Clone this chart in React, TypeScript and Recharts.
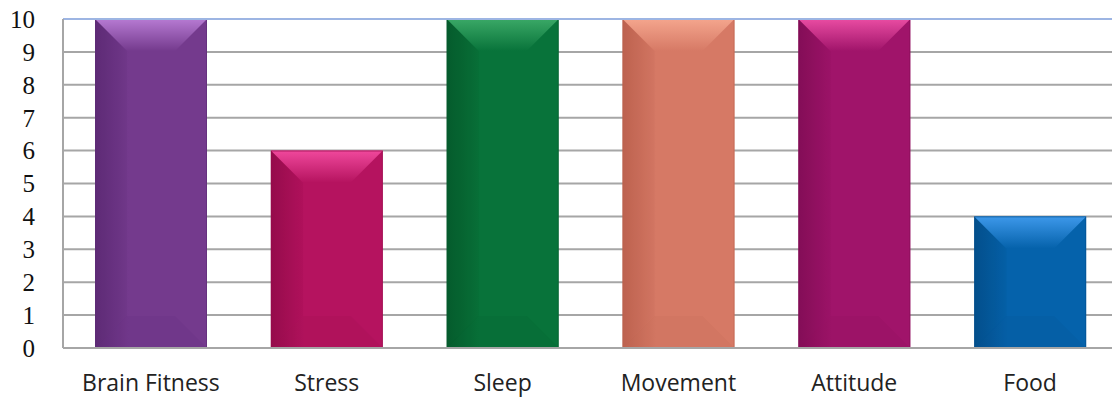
import { BarChart, Bar, XAxis, YAxis, CartesianGrid, ReferenceLine } from 'recharts'

const categories = ['Brain Fitness', 'Stress', 'Sleep', 'Movement', 'Attitude', 'Food']
const scores = [10, 6, 10, 10, 10, 4]
const yTicks = [0, 1, 2, 3, 4, 5, 6, 7, 8, 9, 10]

// base / light (top bevel) / dark (left edge)
const palette = [
  { base: '#743a8d', light: '#b67ad2', dark: '#5e2b76' },
  { base: '#b5135f', light: '#f0489c', dark: '#960c4c' },
  { base: '#08733a', light: '#3aa866', dark: '#055c2d' },
  { base: '#d67965', light: '#f4a58d', dark: '#bd624f' },
  { base: '#a0146a', light: '#e94ca2', dark: '#840d57' },
  { base: '#0562ab', light: '#3d98ea', dark: '#044f8c' },
]

const data = categories.map((name, i) => ({ name, score: scores[i] }))

function BevelBar(props: any) {
  const { x, y, width: w, height: h, index } = props
  if (!h || h <= 0) return null
  const c = palette[index]
  const b = Math.min(32, h / 2, w / 2)
  return (
    <g>
      <rect x={x} y={y} width={w} height={h} fill={`url(#body${index})`} />
      <polygon
        points={`${x},${y} ${x + w},${y} ${x + w - b},${y + b} ${x + b},${y + b}`}
        fill={`url(#top${index})`}
      />
      <polygon
        points={`${x},${y + h} ${x + w},${y + h} ${x + w - b},${y + h - b} ${x + b},${y + h - b}`}
        fill={c.dark}
        opacity={0.15}
      />
      <polygon
        points={`${x},${y} ${x + b},${y + b} ${x + b},${y + h - b} ${x},${y + h}`}
        fill={c.dark}
        opacity={0.12}
      />
      <rect x={x + 0.5} y={y + 0.5} width={w - 1} height={h - 1} fill="none" stroke={c.dark} strokeWidth={1} opacity={0.6} />
    </g>
  )
}

export default function App() {
  return (
    <div style={{ position: 'absolute', left: 0, top: 0, width: 1112, height: 400, overflow: 'hidden', background: '#fff' }}>
      <BarChart
        width={1118}
        height={400}
        data={data}
        margin={{ top: 19, right: 0, left: 0, bottom: 4 }}
        barSize={112}
      >
        <defs>
          {palette.map((c, i) => (
            <linearGradient key={`b${i}`} id={`body${i}`} x1="0" y1="0" x2="1" y2="0">
              <stop offset="0%" stopColor={c.dark} />
              <stop offset="30%" stopColor={c.base} />
              <stop offset="100%" stopColor={c.base} />
            </linearGradient>
          ))}
          {palette.map((c, i) => (
            <linearGradient key={`t${i}`} id={`top${i}`} x1="0" y1="0" x2="0" y2="1">
              <stop offset="0%" stopColor={c.light} />
              <stop offset="100%" stopColor={c.base} />
            </linearGradient>
          ))}
        </defs>
        <CartesianGrid vertical={false} stroke="#a6a6a6" strokeWidth={2} />
        <XAxis
          dataKey="name"
          axisLine={{ stroke: '#a6a6a6', strokeWidth: 2 }}
          tickLine={false}
          tick={{ fontSize: 23, fill: '#222', fontFamily: 'Open Sans' }}
          tickMargin={21}
          height={48}
        />
        <YAxis
          domain={[0, 10]}
          ticks={yTicks}
          interval={0}
          width={63}
          axisLine={{ stroke: '#a6a6a6', strokeWidth: 2 }}
          tickLine={false}
          tick={{ fontSize: 25, fill: '#111', fontFamily: 'Liberation Serif' }}
          tickMargin={22}
        />
        <ReferenceLine y={10} stroke="#9db5e3" strokeWidth={2} />
        <Bar dataKey="score" shape={BevelBar} isAnimationActive={false} />
      </BarChart>
    </div>
  )
}
